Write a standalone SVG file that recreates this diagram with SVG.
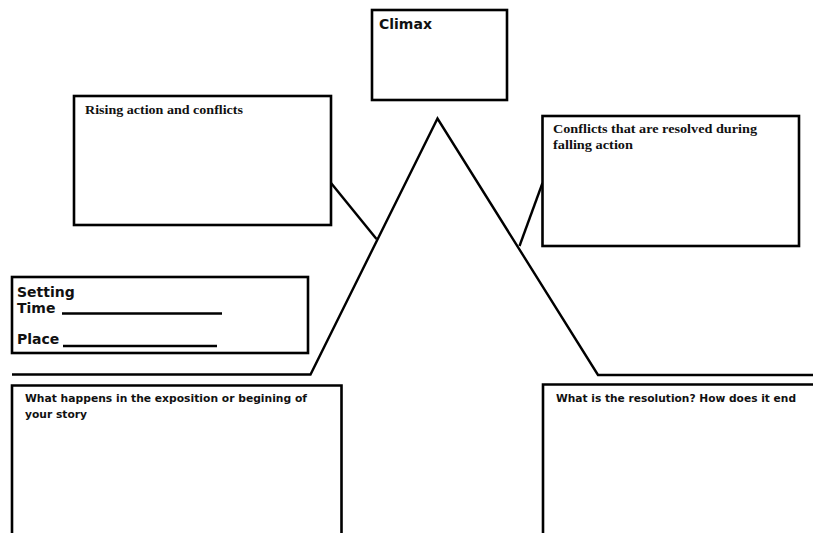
<svg xmlns="http://www.w3.org/2000/svg" width="813" height="533" viewBox="0 0 813 533">
  <style>
    .box { fill: #ffffff; stroke: #000000; stroke-width: 2.6; }
    .line { fill: none; stroke: #000000; stroke-width: 2.4; stroke-linejoin: miter; }
    .sans { font-family: "DejaVu Sans", Verdana, sans-serif; font-weight: bold; fill: #111111; }
    .serif { font-family: "Liberation Serif", "Times New Roman", serif; font-weight: bold; fill: #111111; }
  </style>
  <rect width="813" height="533" fill="#ffffff"/>

  <!-- plot line: baselines, rising and falling legs, and leader lines -->
  <g id="connectors">
    <polyline class="line" points="12,374.5 310.5,374.5 437.5,118.5 598,375 813,375"/>
    <line class="line" x1="331" y1="183" x2="376.5" y2="239"/>
    <line class="line" x1="542.5" y1="183" x2="519.5" y2="246"/>
  </g>

  <g id="climax">
    <rect class="box" x="372" y="10" width="135" height="90"/>
    <text class="sans" x="379" y="28.5" font-size="14">Climax</text>
  </g>

  <g id="rising-action">
    <rect class="box" x="74" y="96" width="257" height="129"/>
    <text class="serif" x="85" y="114" font-size="13" textLength="158" lengthAdjust="spacingAndGlyphs">Rising action and conflicts</text>
  </g>

  <g id="falling-action">
    <rect class="box" x="542.5" y="116" width="256.5" height="130"/>
    <text class="serif" x="553" y="133" font-size="13" textLength="204" lengthAdjust="spacingAndGlyphs">Conflicts that are resolved during</text>
    <text class="serif" x="553" y="149" font-size="13" textLength="80" lengthAdjust="spacingAndGlyphs">falling action</text>
  </g>

  <g id="setting">
    <rect class="box" x="12" y="277" width="296" height="76"/>
    <text class="sans" x="17" y="297" font-size="14">Setting</text>
    <text class="sans" x="17" y="313" font-size="14">Time</text>
    <line class="line" x1="62" y1="313.5" x2="222" y2="313.5"/>
    <text class="sans" x="17" y="344" font-size="14">Place</text>
    <line class="line" x1="63" y1="346" x2="217" y2="346"/>
  </g>

  <g id="exposition">
    <polyline class="box" points="12,540 12,385.5 341.5,385.5 341.5,540"/>
    <text class="sans" x="25" y="402" font-size="11" textLength="282" lengthAdjust="spacingAndGlyphs">What happens in the exposition or begining of</text>
    <text class="sans" x="25" y="418" font-size="11" textLength="62" lengthAdjust="spacingAndGlyphs">your story</text>
  </g>

  <g id="resolution">
    <polyline class="box" points="543,540 543,384.5 820,384.5"/>
    <text class="sans" x="556" y="402" font-size="11" textLength="240" lengthAdjust="spacingAndGlyphs">What is the resolution? How does it end</text>
  </g>
</svg>
